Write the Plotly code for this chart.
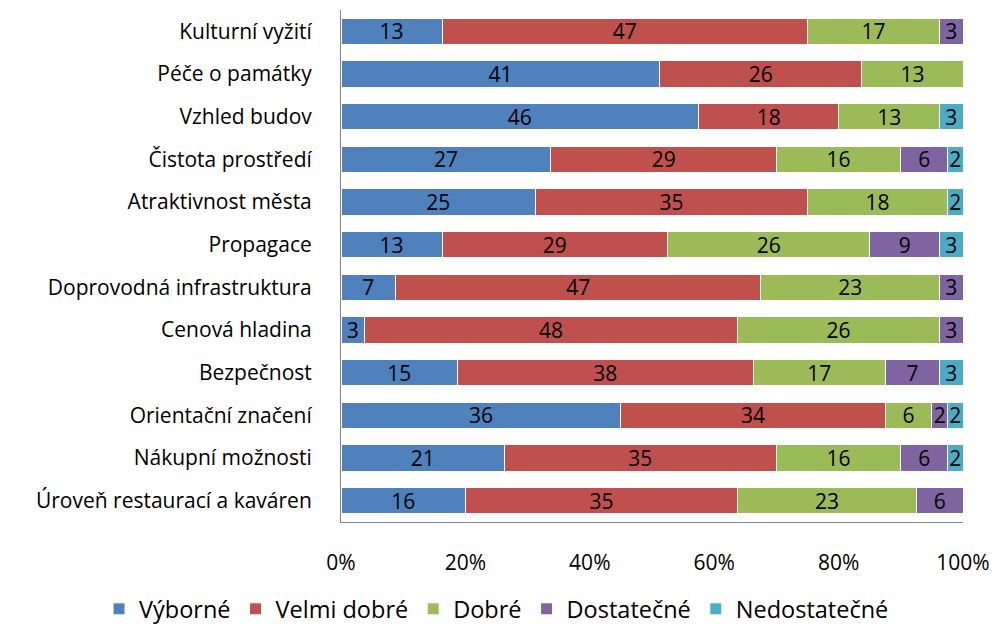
import plotly.graph_objects as go

categories = ["Kulturní vyžití", "Péče o památky", "Vzhled budov", "Čistota prostředí",
              "Atraktivnost města", "Propagace", "Doprovodná infrastruktura", "Cenová hladina",
              "Bezpečnost", "Orientační značení", "Nákupní možnosti", "Úroveň restaurací a kaváren"]
vyborne = [13, 41, 46, 27, 25, 13, 7, 3, 15, 36, 21, 16]
velmi_dobre = [47, 26, 18, 29, 35, 29, 47, 48, 38, 34, 35, 35]
dobre = [17, 13, 13, 16, 18, 26, 23, 26, 17, 6, 16, 23]
dostatecne = [3, 0, 0, 6, 0, 9, 3, 3, 7, 2, 6, 6]
nedostatecne = [0, 0, 3, 2, 2, 3, 0, 0, 3, 2, 2, 0]

series = [("Výborné", vyborne, "#4F81BD"),
          ("Velmi dobré", velmi_dobre, "#C0504D"),
          ("Dobré", dobre, "#9BBB59"),
          ("Dostatečné", dostatecne, "#8064A2"),
          ("Nedostatečné", nedostatecne, "#4BACC6")]

font_family = "'Open Sans', sans-serif"
fs = 21

fig = go.Figure()
for name, vals, color in series:
    fig.add_trace(go.Bar(
        y=categories, x=vals, name=name, orientation="h",
        marker=dict(color=color, line=dict(color="white", width=1)),
        text=[str(v) if v else "" for v in vals],
        textposition="inside", insidetextanchor="middle", textangle=0,
        textfont=dict(color="black", size=fs, family=font_family),
        constraintext="none", cliponaxis=False,
    ))

# page body has an 8px default margin; compensate so the plot lands where intended
fig.update_layout(
    barmode="stack", barnorm="percent", bargap=0.38,
    width=989, height=625,
    margin=dict(l=333, r=34, t=2, b=101),
    plot_bgcolor="white", paper_bgcolor="white",
    font=dict(family=font_family, size=fs, color="black"),
    showlegend=True,
    legend=dict(orientation="h", x=-0.389, xanchor="left", y=-0.17, yanchor="middle",
                font=dict(size=23.5), traceorder="normal", itemwidth=30),
    xaxis=dict(range=[0, 100], tickvals=[0, 20, 40, 60, 80, 100],
               ticktext=["0%", "20%", "40%", "60%", "80%", "100%"],
               showgrid=False, zeroline=False, showline=True, linecolor="#868686",
               linewidth=1, ticks="", ticklabelstandoff=22, tickfont=dict(size=fs)),
    yaxis=dict(autorange="reversed", showline=True, linecolor="#868686", linewidth=1,
               ticks="", showgrid=False, ticklabelstandoff=24,
               tickfont=dict(size=fs)),
)

fig.write_html("out.html")
